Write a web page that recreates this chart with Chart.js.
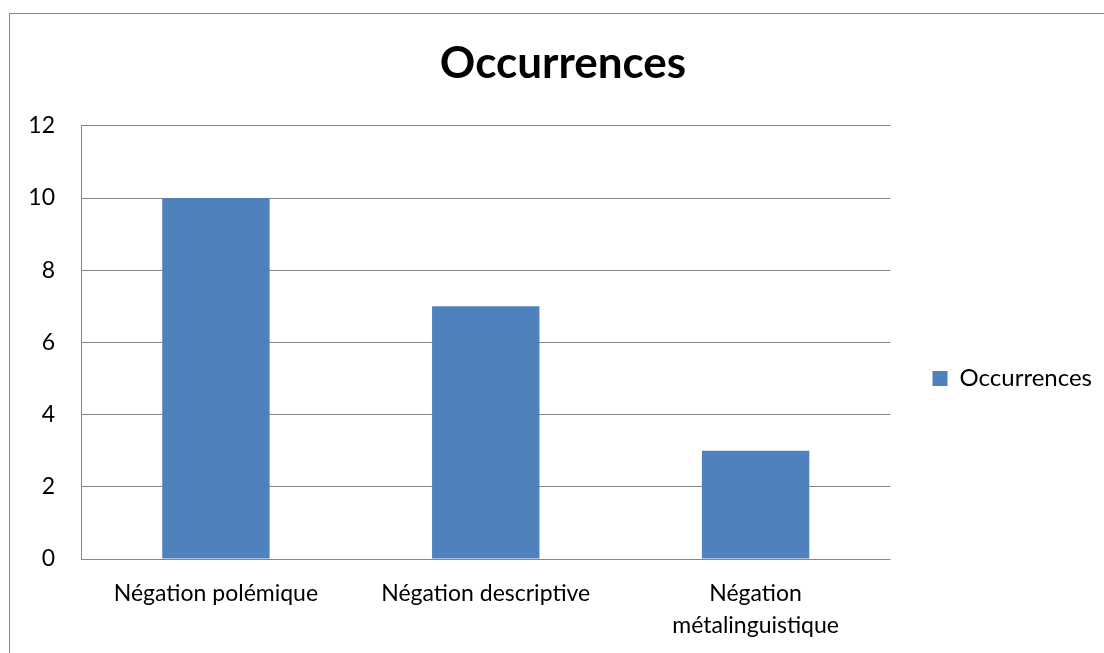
<!DOCTYPE html>
<html>
<head>
<meta charset="utf-8">
<script src="https://cdn.jsdelivr.net/npm/chart.js@4"></script>
<style>
  html, body { margin: 0; padding: 0; background: #fff; }
  #wrap { position: relative; width: 1104px; height: 653px; overflow: hidden; }
  #frame { position: absolute; left: 9px; top: 13px; width: 1200px; height: 800px; border-left: 1.5px solid #898989; border-top: 1.5px solid #898989; }
  canvas { position: absolute; left: 0; top: 0; }
</style>
</head>
<body>
<div id="wrap">
  <div id="frame"></div>
  <canvas id="c" width="1104" height="653"></canvas>
</div>
<script>
const categories = ['Négation polémique', 'Négation descriptive', ['Négation', 'métalinguistique']];
const seriesName = 'Occurrences';
const values = [10, 7, 3];
const yMin = 0, yMax = 12, yStep = 2;

const FONT = 'Lato, "Open Sans", sans-serif';

new Chart(document.getElementById('c'), {
  type: 'bar',
  data: {
    labels: categories,
    datasets: [{
      label: seriesName,
      data: values,
      backgroundColor: '#4F81BD',
      borderWidth: 0,
      categoryPercentage: 1.0,
      barPercentage: 0.398
    }]
  },
  options: {
    responsive: false,
    animation: false,
    devicePixelRatio: 1,
    layout: { padding: { left: 24, right: 2, top: 0, bottom: 0 } },
    plugins: {
      title: {
        display: true,
        text: 'Occurrences',
        color: '#000',
        font: { family: FONT, size: 44, weight: 'bold', lineHeight: 1.2 },
        padding: { top: 37, bottom: 36 }
      },
      legend: {
        position: 'right',
        align: 'center',
        title: { display: true, text: '', font: { size: 10, lineHeight: 1.2 }, padding: { top: 46, bottom: 46 } },
        labels: {
          color: '#000',
          boxWidth: 15,
          boxHeight: 15,
          padding: 42,
          font: { family: FONT, size: 24 }
        }
      },
      tooltip: { enabled: false }
    },
    scales: {
      x: {
        grid: { display: false, drawTicks: false },
        border: { display: false },
        ticks: { color: '#000', font: { family: FONT, size: 23, lineHeight: 1.4 }, padding: 18, maxRotation: 0, autoSkip: false },
        afterFit: (s) => { s.height = 94; }
      },
      y: {
        min: yMin,
        max: yMax,
        ticks: { stepSize: yStep, color: '#000', font: { family: FONT, size: 23 }, padding: 26 },
        grid: { color: '#868686', lineWidth: 1, drawTicks: false },
        border: { display: true, color: '#868686', width: 1 },
        afterFit: (s) => { s.width = 57; }
      }
    }
  }
});
</script>
</body>
</html>
